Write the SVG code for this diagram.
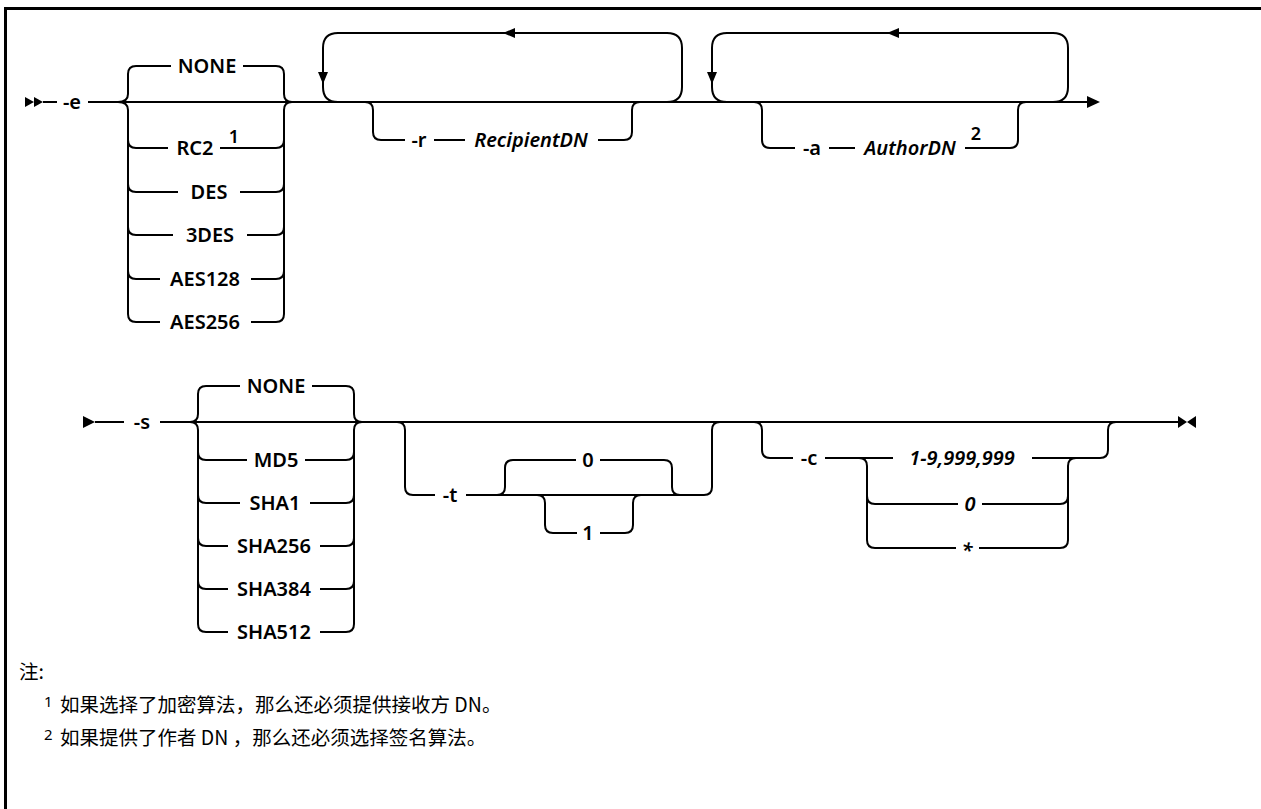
<svg xmlns="http://www.w3.org/2000/svg" width="1261" height="809" viewBox="0 0 1261 809">
<style>
.ln{fill:none;stroke:#000;stroke-width:2;stroke-linejoin:round}
.ah{fill:#000;stroke:none}
.lbl{font-family:"Noto Sans","Liberation Sans",sans-serif;font-size:20px;font-weight:600;fill:#000;text-anchor:middle}
.it{font-style:italic}
.sup{font-family:"Noto Sans","Liberation Sans",sans-serif;font-size:18px;font-weight:600;fill:#000;text-anchor:middle}
.note{font-family:"Noto Sans CJK SC","Noto Sans",sans-serif;font-size:19.5px;fill:#000}
.nsup{font-family:"Noto Sans","Liberation Sans",sans-serif;font-size:15px;fill:#000}
</style>
<rect width="1261" height="809" fill="#fff"/>
<path d="M5.5,809 V8.5 H1261" fill="none" stroke="#000" stroke-width="3"/>
<g id="connectors">
<path class="ln" d="M43,102 H57 M88,102 H1088"/>
<path class="ln" d="M118,102 Q128,102 128,94 V74 Q128,66 136,66 H171 M243,66 H276 Q284,66 284,74 V94 Q284,102 292,102"/>
<path class="ln" d="M118,102 Q128,102 128,110 V314 Q128,322 136,322 H160 M251,322 H276 Q284,322 284,314 V110 Q284,102 292,102"/>
<path class="ln" d="M128,140 Q128,148 136,148 H168 M220,148 H276 Q284,148 284,140"/>
<path class="ln" d="M128,184 Q128,192 136,192 H178 M240,192 H276 Q284,192 284,184"/>
<path class="ln" d="M128,227 Q128,235 136,235 H173 M247,235 H276 Q284,235 284,227"/>
<path class="ln" d="M128,271 Q128,279 136,279 H160 M251,279 H276 Q284,279 284,271"/>
<path class="ln" d="M338,102 Q323,102 323,87 V48 Q323,33 338,33 H667 Q682,33 682,48 V87 Q682,102 667,102"/>
<path class="ln" d="M365,102 Q373,102 373,110 V132 Q373,140 381,140 H405 M434,140 H465 M598,140 H624 Q632,140 632,132 V110 Q632,102 640,102"/>
<path class="ln" d="M727,102 Q712,102 712,87 V48 Q712,33 727,33 H1053 Q1068,33 1068,48 V87 Q1068,102 1053,102"/>
<path class="ln" d="M754,102 Q762,102 762,110 V140 Q762,148 770,148 H795 M829,148 H855 M965,148 H1010 Q1018,148 1018,140 V110 Q1018,102 1026,102"/>
<polygon class="ah" points="25,97 34,102 25,107"/>
<polygon class="ah" points="34,97 43,102 34,107"/>
<polygon class="ah" points="1087,96 1100,102 1087,108"/>
<polygon class="ah" points="503,33 515,28 515,38"/>
<polygon class="ah" points="887,33 899,28 899,38"/>
<polygon class="ah" points="318,72 328,72 323,84"/>
<polygon class="ah" points="707,72 717,72 712,84"/>
<path class="ln" d="M95,422 H124 M160,422 H1178"/>
<path class="ln" d="M190,422 Q198,422 198,414 V394 Q198,386 206,386 H240 M312,386 H346 Q354,386 354,394 V414 Q354,422 362,422"/>
<path class="ln" d="M190,422 Q198,422 198,430 V624 Q198,632 206,632 H228 M320,632 H346 Q354,632 354,624 V430 Q354,422 362,422"/>
<path class="ln" d="M198,452 Q198,460 206,460 H247 M305,460 H346 Q354,460 354,452"/>
<path class="ln" d="M198,495 Q198,503 206,503 H240 M310,503 H346 Q354,503 354,495"/>
<path class="ln" d="M198,538 Q198,546 206,546 H228 M320,546 H346 Q354,546 354,538"/>
<path class="ln" d="M198,581 Q198,589 206,589 H228 M320,589 H346 Q354,589 354,581"/>
<path class="ln" d="M397,422 Q405,422 405,430 V487 Q405,495 413,495 H435 M466,495 H704 Q712,495 712,487 V430 Q712,422 720,422"/>
<path class="ln" d="M497,495 Q505,495 505,487 V468 Q505,460 513,460 H576 M600,460 H664 Q672,460 672,468 V487 Q672,495 680,495"/>
<path class="ln" d="M537,495 Q545,495 545,503 V525 Q545,533 553,533 H577 M600,533 H625 Q633,533 633,525 V503 Q633,495 641,495"/>
<path class="ln" d="M754,422 Q762,422 762,430 V450 Q762,458 770,458 H793 M825,458 H893 M1032,458 H1100 Q1108,458 1108,450 V430 Q1108,422 1116,422"/>
<path class="ln" d="M859,458 Q867,458 867,466 V540 Q867,548 875,548 H956 M979,548 H1060 Q1068,548 1068,540 V466 Q1068,458 1076,458"/>
<path class="ln" d="M867,496 Q867,504 875,504 H958 M982,504 H1060 Q1068,504 1068,496"/>
<polygon class="ah" points="83,416 95,422 83,428"/>
<polygon class="ah" points="1178,416 1187,422 1178,428"/>
<polygon class="ah" points="1196,416 1187,422 1196,428"/>
</g>
<g id="opt-e"><text class="lbl" x="72" y="109">-e</text></g>
<g id="e-none"><text class="lbl" x="207" y="73">NONE</text></g>
<g id="e-rc2"><text class="lbl" x="195" y="155">RC2</text><text class="sup" x="234" y="143">1</text></g>
<g id="e-des"><text class="lbl" x="209" y="199">DES</text></g>
<g id="e-3des"><text class="lbl" x="210" y="242">3DES</text></g>
<g id="e-aes128"><text class="lbl" x="205" y="286">AES128</text></g>
<g id="e-aes256"><text class="lbl" x="205" y="329">AES256</text></g>
<g id="opt-r"><text class="lbl" x="419" y="147">-r</text><text class="lbl it" x="531" y="147">RecipientDN</text></g>
<g id="opt-a"><text class="lbl" x="812" y="155">-a</text><text class="lbl it" x="910" y="155">AuthorDN</text><text class="sup" x="976" y="140">2</text></g>
<g id="opt-s"><text class="lbl" x="142" y="429">-s</text></g>
<g id="s-none"><text class="lbl" x="276" y="393">NONE</text></g>
<g id="s-md5"><text class="lbl" x="276" y="467">MD5</text></g>
<g id="s-sha1"><text class="lbl" x="275" y="510">SHA1</text></g>
<g id="s-sha256"><text class="lbl" x="274" y="553">SHA256</text></g>
<g id="s-sha384"><text class="lbl" x="274" y="596">SHA384</text></g>
<g id="s-sha512"><text class="lbl" x="274" y="639">SHA512</text></g>
<g id="opt-t"><text class="lbl" x="450" y="502">-t</text></g>
<g id="t-0"><text class="lbl" x="588" y="467">0</text></g>
<g id="t-1"><text class="lbl" x="588" y="540">1</text></g>
<g id="opt-c"><text class="lbl" x="809" y="465">-c</text></g>
<g id="c-range"><text class="lbl it" x="962" y="465">1-9,999,999</text></g>
<g id="c-0"><text class="lbl it" x="970" y="511">0</text></g>
<g id="c-star"><text class="lbl it" x="967" y="557">*</text></g>
<g id="notes">
<text class="note" x="19" y="679">注:</text>
<text class="nsup" x="44" y="707">1</text>
<text class="note" x="60" y="712">如果选择了加密算法，那么还必须提供接收方 DN。</text>
<text class="nsup" x="44" y="740">2</text>
<text class="note" x="60" y="745">如果提供了作者 DN ，那么还必须选择签名算法。</text>
</g>
</svg>
